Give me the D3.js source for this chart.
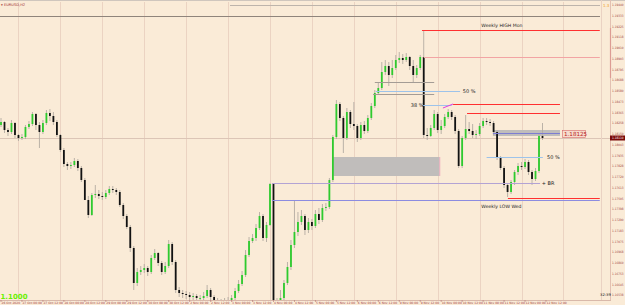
<!DOCTYPE html>
<html>
<head>
<meta charset="utf-8">
<script src="https://cdn.jsdelivr.net/npm/d3@7"></script>
<style>
  body { margin: 0; background: #faebd7; }
  svg { display: block; font-family: "DejaVu Sans", sans-serif; }
</style>
</head>
<body>
<svg id="chart" width="625" height="305"></svg>
<script>
// EURUSD H2 bars (open = previous close)
const firstOpen = 1.1824;
const closes = [
  1.1827,1.1819,1.1817,1.1826,1.1814,1.1811,1.1812,1.1822,1.1825,1.1835,
  1.1824,1.1817,1.1826,1.1836,1.1833,1.1827,1.1814,1.1799,1.1785,1.1783,
  1.1784,1.1788,1.1781,1.1769,1.1749,1.1734,1.1754,1.1755,1.1753,1.1752,
  1.1756,1.1760,1.1759,1.1757,1.1744,1.1733,1.1722,1.1701,1.1666,1.1677,
  1.1679,1.1681,1.1677,1.1691,1.1696,1.1686,1.1677,1.1683,1.1705,1.1687,
  1.1659,1.1656,1.1655,1.1654,1.1652,1.1653,1.1651,1.1651,1.1653,1.1659,
  1.1652,1.1648,1.1647,1.1646,1.1647,1.1648,1.1651,1.1658,1.1665,1.1674,
  1.1694,1.1708,1.1711,1.1721,1.1733,1.1711,1.1724,1.1765,1.1649,1.1645,
  1.1651,1.1666,1.1682,1.1704,1.1717,1.1727,1.1733,1.1719,1.1727,1.1723,
  1.1735,1.1729,1.1741,1.1742,1.1769,1.1812,1.1845,1.1831,1.1811,1.1837,
  1.1825,1.1823,1.1811,1.1824,1.1818,1.1831,1.1843,1.1856,1.1861,1.1877,
  1.1883,1.1874,1.1881,1.1889,1.1891,1.1889,1.1892,1.1883,1.1874,1.1881,
  1.1892,1.1814,1.1813,1.1821,1.1835,1.1819,1.1823,1.1832,1.1837,1.1832,
  1.1818,1.1783,1.1811,1.1820,1.1818,1.1814,1.1815,1.1823,1.1828,1.1827,
  1.1826,1.1817,1.1791,1.1781,1.1764,1.1757,1.1767,1.1777,1.1783,1.1782,
  1.1787,1.1777,1.1770,1.1778,1.1813,1.1811
];
const highs = [
  1.1831,1.1828,1.1821,1.1829,1.1827,1.1815,1.1815,1.1824,1.1828,1.1837,
  1.1836,1.1827,1.1829,1.1839,1.1840,1.1837,1.1829,1.1815,1.1801,1.1787,
  1.1787,1.1791,1.1790,1.1783,1.1771,1.1753,1.1756,1.1764,1.1759,1.1757,
  1.1759,1.1763,1.1763,1.1761,1.1759,1.1746,1.1735,1.1724,1.1703,1.1681,
  1.1683,1.1685,1.1683,1.1694,1.1700,1.1697,1.1688,1.1687,1.1709,1.1707,
  1.1689,1.1662,1.1659,1.1658,1.1657,1.1656,1.1655,1.1654,1.1657,1.1664,
  1.1661,1.1654,1.1651,1.1650,1.1651,1.1652,1.1654,1.1661,1.1669,1.1678,
  1.1699,1.1712,1.1715,1.1725,1.1737,1.1735,1.1727,1.1766,1.1765,1.1651,
  1.1659,1.1669,1.1687,1.1709,1.1749,1.1737,1.1739,1.1735,1.1731,1.1730,
  1.1739,1.1741,1.1745,1.1746,1.1771,1.1814,1.1849,1.1847,1.1833,1.1841,
  1.1839,1.1847,1.1825,1.1827,1.1828,1.1834,1.1846,1.1859,1.1867,1.1887,
  1.1889,1.1887,1.1889,1.1894,1.1897,1.1895,1.1896,1.1893,1.1889,1.1884,
  1.1894,1.1919,1.1821,1.1824,1.1839,1.1837,1.1829,1.1835,1.1840,1.1839,
  1.1834,1.1820,1.1813,1.1834,1.1827,1.1825,1.1819,1.1826,1.1831,1.1831,
  1.1830,1.1828,1.1819,1.1793,1.1783,1.1766,1.1769,1.1779,1.1786,1.1787,
  1.1790,1.1789,1.1779,1.1781,1.1816,1.1826
];
const lows = [
  1.1822,1.1816,1.1813,1.1815,1.1811,1.1808,1.1809,1.1810,1.1820,1.1823,
  1.1819,1.1801,1.1815,1.1824,1.1828,1.1824,1.1812,1.1797,1.1782,1.1779,
  1.1780,1.1782,1.1778,1.1767,1.1749,1.1731,1.1733,1.1751,1.1750,1.1749,
  1.1750,1.1754,1.1756,1.1754,1.1742,1.1730,1.1720,1.1697,1.1659,1.1663,
  1.1674,1.1676,1.1673,1.1675,1.1689,1.1683,1.1674,1.1675,1.1681,1.1684,
  1.1656,1.1652,1.1651,1.1650,1.1649,1.1649,1.1648,1.1647,1.1648,1.1651,
  1.1649,1.1645,1.1643,1.1642,1.1643,1.1644,1.1645,1.1649,1.1656,1.1663,
  1.1672,1.1692,1.1706,1.1708,1.1719,1.1708,1.1707,1.1723,1.1643,1.1609,
  1.1634,1.1649,1.1664,1.1679,1.1701,1.1713,1.1724,1.1714,1.1716,1.1719,
  1.1721,1.1725,1.1727,1.1738,1.1740,1.1767,1.1810,1.1828,1.1796,1.1809,
  1.1821,1.1819,1.1807,1.1809,1.1815,1.1816,1.1829,1.1841,1.1854,1.1859,
  1.1874,1.1863,1.1871,1.1879,1.1886,1.1885,1.1887,1.1879,1.1867,1.1871,
  1.1879,1.1811,1.1809,1.1812,1.1819,1.1816,1.1815,1.1821,1.1830,1.1829,
  1.1815,1.1781,1.1781,1.1809,1.1815,1.1811,1.1810,1.1813,1.1821,1.1824,
  1.1823,1.1814,1.1789,1.1779,1.1761,1.1752,1.1755,1.1764,1.1774,1.1779,
  1.1780,1.1774,1.1764,1.1768,1.1776,1.1809
];

// one time label every 6 bars
const timeLabels = [
  "26 Oct 2020","27 Oct 00:00","27 Oct 12:00","28 Oct 00:00","28 Oct 12:00",
  "29 Oct 00:00","29 Oct 12:00","30 Oct 00:00","30 Oct 12:00","2 Nov 00:00",
  "2 Nov 12:00","3 Nov 00:00","3 Nov 12:00","4 Nov 00:00","4 Nov 12:00",
  "5 Nov 00:00","5 Nov 12:00","6 Nov 00:00","6 Nov 12:00","9 Nov 00:00",
  "9 Nov 12:00","10 Nov 00:00","10 Nov 12:00","11 Nov 00:00","11 Nov 12:00",
  "12 Nov 00:00","12 Nov 12:00"
];
const priceTicks = [
  1.19440,1.19333,1.19225,1.19118,1.19010,1.18903,1.18795,1.18688,1.18580,1.18473,
  1.18365,1.18258,1.18150,1.18043,1.17935,1.17828,1.17720,1.17613,1.17505,1.17398,
  1.17290,1.17183,1.17075,1.16968,1.16860,1.16753,1.16645,1.16538
];

// chart objects: price levels with start / end bar
const levelPrices = [1.1919, 1.1892, 1.1867, 1.1858, 1.1855, 1.1844, 1.1845, 1.1836, 1.1816, 1.1792, 1.1766, 1.1749, 1.1751];
const levelFrom   = [120.5, 121, 107, 107.3, 106.5, 120.8, 129.4, 133.4, 140.8, 139, 77.6, 77.6, 145.1];
const levelTo     = [171.4, 171.4, 124, 131.4, 124, 129, 160, 160, 160, 155.1, 154.3, 171.4, 171.4];
const levelKinds  = ['red', 'pink', 'grey', 'fibo', 'grey', 'fibo', 'red', 'red', 'mid', 'fibo', 'br', 'low', 'red'];

const boxTop  = [1.1819, 1.1792];
const boxBot  = [1.1813, 1.1773];
const boxFrom = [140.8, 95];
const boxTo   = [160, 125.6];

const W = 625, H = 305;
const svg = d3.select('#chart');

const x = d3.scaleLinear().domain([0, 155]).range([1, 542.5]);
const y = d3.scaleLinear().domain([1.1949, 1.1649]).range([0, 300]);

const kindColor = {
  red: '#ff3030', pink: '#f2a4a4', grey: '#a49c95', fibo: '#9dc3ea',
  mid: '#7d7dd2', br: '#b3a3d4', low: '#8c8ce0'
};

svg.append('rect').attr('width', W).attr('height', H).attr('fill', '#faebd7');

svg.append('clipPath').attr('id', 'plotclip')
  .append('rect').attr('x', 0).attr('y', 2).attr('width', 610).attr('height', 298);

const plot = svg.append('g').attr('clip-path', 'url(#plotclip)');

// vertical grid, one line per 12 bars
plot.selectAll('line.grid')
  .data(d3.range(5, 175, 12).filter(b => x(b) < 600))
  .join('line')
  .attr('x1', b => Math.round(x(b)) + 0.5)
  .attr('x2', b => Math.round(x(b)) + 0.5)
  .attr('y1', 2).attr('y2', 300)
  .attr('stroke', '#ebd3c2').attr('stroke-width', 1);

// top lines
svg.append('line').attr('x1', 0).attr('x2', 625).attr('y1', 0.5).attr('y2', 0.5)
  .attr('stroke', '#cfc6bd');
svg.append('line').attr('x1', 230).attr('x2', 600).attr('y1', 5.5).attr('y2', 5.5)
  .attr('stroke', '#bdb4ab');
svg.append('line').attr('x1', 0).attr('x2', 600).attr('y1', 16.5).attr('y2', 16.5)
  .attr('stroke', '#8f847b');

// rectangles behind the bars
plot.selectAll('rect.box')
  .data(boxTop.map((t, i) => ({ t, b: boxBot[i], f: boxFrom[i], e: boxTo[i] })))
  .join('rect')
  .attr('x', d => x(d.f)).attr('width', d => x(d.e) - x(d.f))
  .attr('y', d => y(d.t)).attr('height', d => y(d.b) - y(d.t))
  .attr('fill', '#c0bdbb');
plot.append('line')
  .attr('x1', x(boxTo[1])).attr('x2', x(boxTo[1]))
  .attr('y1', y(boxTop[1])).attr('y2', y(boxBot[1]))
  .attr('stroke', '#f0b0c0');

// bid line
const last = closes[closes.length - 1];
plot.append('line').attr('x1', 0).attr('x2', 610)
  .attr('y1', Math.round(y(last)) + 0.5).attr('y2', Math.round(y(last)) + 0.5)
  .attr('stroke', '#dcc5b6');

// candles
const bars = closes.map((c, i) => ({ i, o: i ? closes[i - 1] : firstOpen, c, h: highs[i], l: lows[i] }));

plot.selectAll('line.wick')
  .data(bars)
  .join('line')
  .attr('x1', d => x(d.i)).attr('x2', d => x(d.i))
  .attr('y1', d => y(Math.max(d.h, d.o, d.c)))
  .attr('y2', d => y(Math.min(d.l, d.o, d.c)))
  .attr('stroke', '#b3aba1').attr('stroke-width', 0.9);

plot.selectAll('rect.body')
  .data(bars)
  .join('rect')
  .attr('x', d => x(d.i) - 0.9)
  .attr('width', 1.8)
  .attr('y', d => y(Math.max(d.o, d.c)))
  .attr('height', d => Math.max(0.9, Math.abs(y(d.o) - y(d.c))))
  .attr('fill', d => d.c >= d.o ? '#2ecb2e' : '#121212');

// horizontal objects
plot.selectAll('line.level')
  .data(levelPrices.map((p, i) => ({ p, f: levelFrom[i], e: levelTo[i], k: levelKinds[i] })))
  .join('line')
  .attr('x1', d => x(d.f)).attr('x2', d => x(d.e))
  .attr('y1', d => Math.round(y(d.p)) + 0.5).attr('y2', d => Math.round(y(d.p)) + 0.5)
  .attr('stroke', d => kindColor[d.k]).attr('stroke-width', 1);

plot.append('line')
  .attr('x1', x(126.5)).attr('y1', y(1.1841))
  .attr('x2', x(129.4)).attr('y2', y(1.1845))
  .attr('stroke', '#e040e0').attr('stroke-width', 1);

// object texts
const txt = (s, px, py, size, color) => svg.append('text')
  .attr('x', px).attr('y', py).attr('font-size', size).attr('fill', color).text(s);

txt('Weekly HIGH Mon', x(137.5), y(1.1919) - 3, 4.6, '#222');
txt('Weekly LOW Wed', x(137.5), y(1.1749) + 7.5, 4.6, '#222');
txt('50 %', x(132.2), y(1.1858) + 2, 5, '#222');
txt('38 %', x(117.3), y(1.1844) + 1.5, 5, '#222');
txt('50 %', x(156.3), y(1.1792) + 2, 5, '#222');
txt('+ BR', x(154.8), y(1.1766) + 2, 5, '#222');

// price tag box
svg.append('rect').attr('x', 562.5).attr('y', 130.5).attr('width', 23).attr('height', 7)
  .attr('fill', '#f6dccd').attr('stroke', '#d86a6a').attr('stroke-width', 0.6);
txt('1.18125', 564, 136.4, 5.6, '#b82020');

// chart title
txt('\u25be EURUSD,H2', 1, 5.5, 3.6, '#a03030');
txt('1.3', 603, 7, 4, '#f0a020');

// right price axis
svg.append('line').attr('x1', 601.5).attr('x2', 601.5).attr('y1', 0).attr('y2', 300)
  .attr('stroke', '#ead2c3');
svg.append('line').attr('x1', 610.5).attr('x2', 610.5).attr('y1', 0).attr('y2', 300)
  .attr('stroke', '#e2c0b2');
svg.append('line').attr('x1', 610.5).attr('x2', 610.5).attr('y1', 28).attr('y2', 78)
  .attr('stroke', '#dc9c94').attr('stroke-width', 1.2);

svg.selectAll('text.ptick')
  .data(priceTicks)
  .join('text')
  .attr('x', 612).attr('y', p => y(p) + 1.2)
  .attr('font-size', 3.2).attr('fill', '#a04040')
  .attr('textLength', 11.5).attr('lengthAdjust', 'spacingAndGlyphs')
  .text(p => d3.format('.5f')(p));

svg.append('rect').attr('x', 610).attr('y', y(last) - 2.5).attr('width', 15).attr('height', 5)
  .attr('fill', '#7a0a0a');
svg.append('text').attr('x', 612).attr('y', y(last) + 1.2)
  .attr('font-size', 3.2).attr('fill', '#fff')
  .attr('textLength', 11.5).attr('lengthAdjust', 'spacingAndGlyphs')
  .text(d3.format('.5f')(last));

// bottom time axis
svg.append('line').attr('x1', 0).attr('x2', 611).attr('y1', 300.5).attr('y2', 300.5)
  .attr('stroke', '#d9b9aa');
svg.selectAll('line.ttick')
  .data(timeLabels)
  .join('line')
  .attr('x1', (s, k) => x(k * 6)).attr('x2', (s, k) => x(k * 6))
  .attr('y1', 300).attr('y2', 302)
  .attr('stroke', '#b07070').attr('stroke-width', 0.6);
svg.selectAll('text.ttime')
  .data(timeLabels)
  .join('text')
  .attr('x', (s, k) => x(k * 6) + 0.5).attr('y', 304.3)
  .attr('font-size', 3).attr('fill', '#a04040')
  .text(s => s);

// corner labels
svg.append('text').attr('x', 0.5).attr('y', 298.5)
  .attr('font-size', 7).attr('font-weight', 'bold').attr('fill', '#6cf000').text('1.1000');
txt('32:39', 600, 296, 3.8, '#222');
</script>
</body>
</html>
